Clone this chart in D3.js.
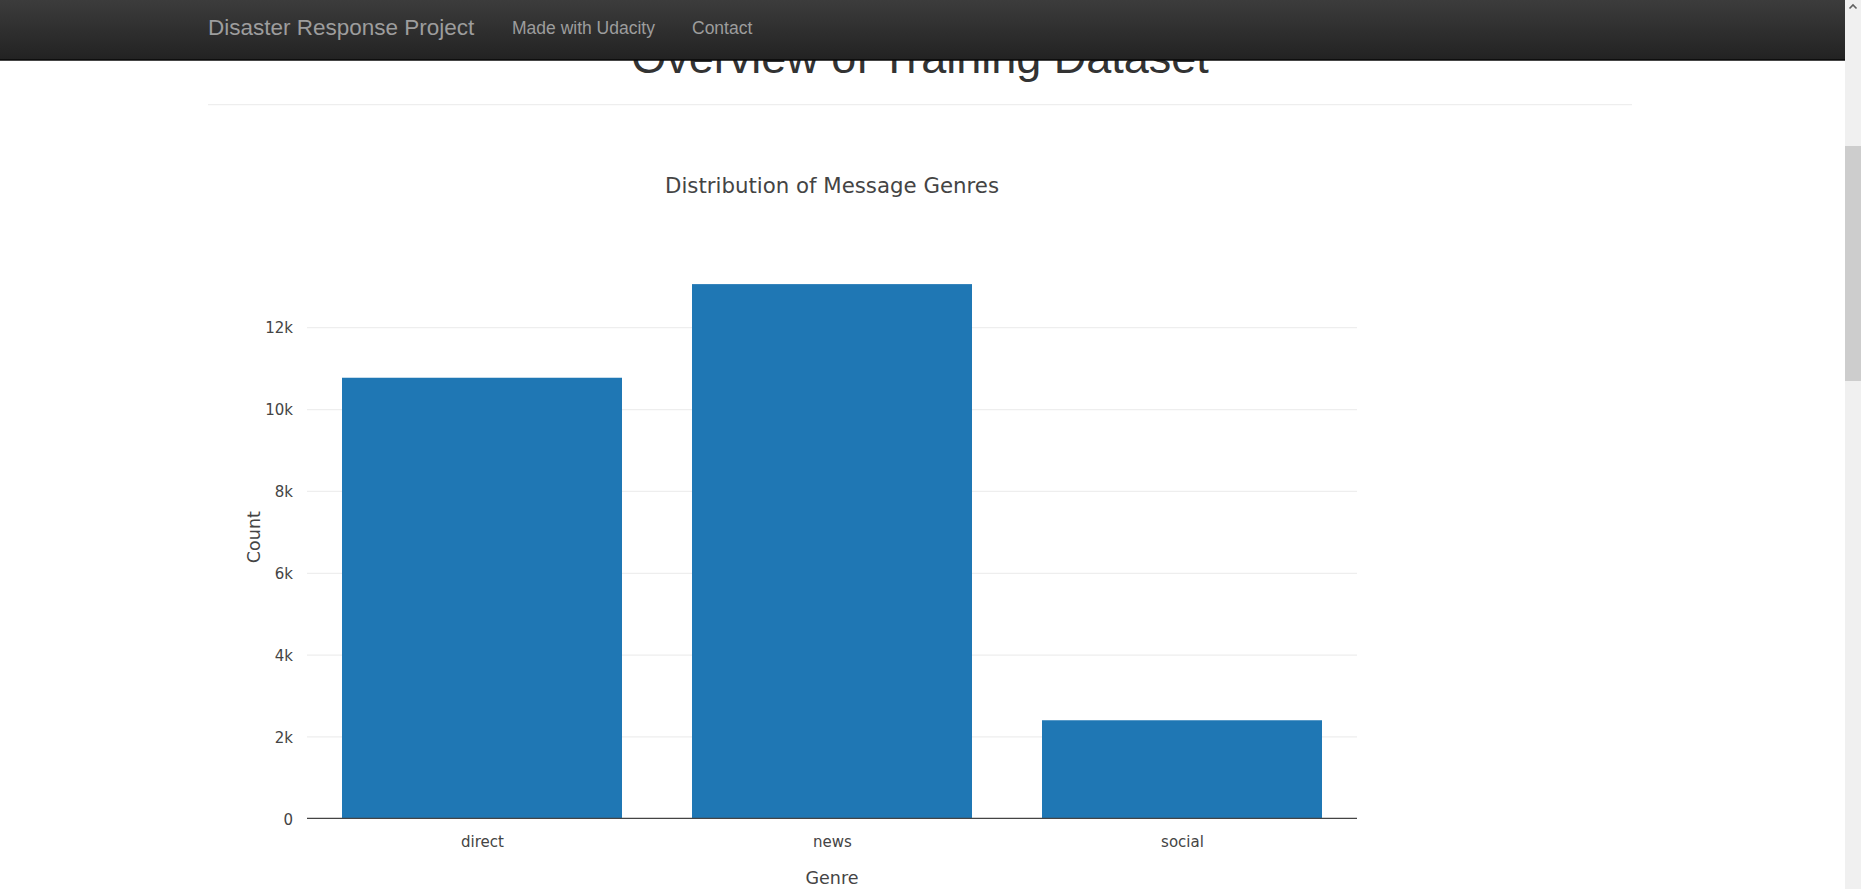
<!DOCTYPE html>
<html>
<head>
<meta charset="utf-8">
<script src="https://cdn.jsdelivr.net/npm/d3@7"></script>
<style>
  html, body { margin: 0; padding: 0; background: #fff; overflow: hidden; }
  svg { display: block; }
</style>
</head>
<body>
<svg id="page" width="1861" height="889"></svg>
<script>
// ---- data ----
const categories = ["direct", "news", "social"];
const counts = [10766, 13054, 2396];
const yTicks = [0, 2000, 4000, 6000, 8000, 10000, 12000];
const yTickLabels = ["0", "2k", "4k", "6k", "8k", "10k", "12k"];
const navBrand = "Disaster Response Project";
const navLinks = ["Made with Udacity", "Contact"];
const pageHeading = "Overview of Training Dataset";
const chartTitle = "Distribution of Message Genres";
const xTitle = "Genre";
const yTitle = "Count";

// ---- layout ----
const W = 1861, H = 889;
const plot = { left: 307, right: 1357, top: 256, bottom: 818.3 };
const svg = d3.select("#page");
const chartFont = "'DejaVu Sans', Verdana, sans-serif";
const pageFont = "'Liberation Sans', Arial, Helvetica, sans-serif";
const defs = svg.append("defs");

// page heading (partly hidden behind fixed navbar)
defs.append("clipPath").attr("id", "belowNav")
  .append("rect").attr("x", 0).attr("y", 60).attr("width", W).attr("height", H - 60);
svg.append("g").attr("clip-path", "url(#belowNav)")
  .append("text")
  .attr("x", 920).attr("y", 73)
  .attr("text-anchor", "middle")
  .attr("font-family", pageFont).attr("font-size", 45)
  .attr("fill", "#333")
  .text(pageHeading);

svg.append("line")
  .attr("x1", 208).attr("x2", 1632).attr("y1", 104.5).attr("y2", 104.5)
  .attr("stroke", "#eee").attr("stroke-width", 1.25);

// ---- chart ----
const yMax = d3.max(counts) / 0.95;
const y = d3.scaleLinear().domain([0, yMax]).range([plot.bottom, plot.top]);
const x = d3.scaleBand().domain(categories).range([plot.left, plot.right])
  .paddingInner(0.2).paddingOuter(0.1);
const xCenters = d3.scalePoint().domain(categories).range([plot.left, plot.right]).padding(0.5);

// grid
const grid = svg.append("g")
  .attr("transform", `translate(${plot.left},0)`)
  .call(d3.axisLeft(y).tickValues(yTicks.filter(v => v > 0))
    .tickSize(-(plot.right - plot.left)).tickFormat(""));
grid.select(".domain").remove();
grid.selectAll(".tick line").attr("stroke", "#eee").attr("stroke-width", 1.25);

// bars
svg.append("g").selectAll("rect")
  .data(categories)
  .join("rect")
  .attr("x", d => x(d))
  .attr("width", x.bandwidth())
  .attr("y", (d, i) => y(counts[i]))
  .attr("height", (d, i) => y(0) - y(counts[i]))
  .attr("fill", "#1f77b4");

// zero line
svg.append("line")
  .attr("x1", plot.left).attr("x2", plot.right)
  .attr("y1", y(0)).attr("y2", y(0))
  .attr("stroke", "#444").attr("stroke-width", 1.25);

// y axis labels
const yAxis = svg.append("g")
  .attr("transform", `translate(${plot.left - 14},0)`)
  .call(d3.axisLeft(y).tickValues(yTicks).tickSize(0).tickPadding(0)
    .tickFormat((d, i) => yTickLabels[i]));
yAxis.select(".domain").remove();
yAxis.selectAll("text")
  .attr("font-family", chartFont).attr("font-size", 15).attr("fill", "#444")
  .attr("dy", "0.38em");

// x axis labels
const xAxis = svg.append("g")
  .attr("transform", `translate(0,${plot.bottom})`)
  .call(d3.axisBottom(xCenters).tickSize(0).tickPadding(0));
xAxis.select(".domain").remove();
xAxis.selectAll("text")
  .attr("font-family", chartFont).attr("font-size", 15).attr("fill", "#444")
  .attr("dy", null).attr("y", 28.5);

// titles
svg.append("text")
  .attr("x", (plot.left + plot.right) / 2).attr("y", 193)
  .attr("text-anchor", "middle")
  .attr("font-family", chartFont).attr("font-size", 21.3).attr("fill", "#444")
  .text(chartTitle);

svg.append("text")
  .attr("x", (plot.left + plot.right) / 2).attr("y", 884)
  .attr("text-anchor", "middle")
  .attr("font-family", chartFont).attr("font-size", 17.5).attr("fill", "#444")
  .text(xTitle);

svg.append("text")
  .attr("transform", `translate(260,${(plot.top + plot.bottom) / 2}) rotate(-90)`)
  .attr("text-anchor", "middle")
  .attr("font-family", chartFont).attr("font-size", 17.5).attr("fill", "#444")
  .text(yTitle);

// ---- navbar (fixed, on top) ----
const grad = defs.append("linearGradient").attr("id", "navgrad")
  .attr("x1", 0).attr("x2", 0).attr("y1", 0).attr("y2", 1);
grad.append("stop").attr("offset", "0%").attr("stop-color", "#3c3c3c");
grad.append("stop").attr("offset", "100%").attr("stop-color", "#222");

svg.append("rect").attr("x", 0).attr("y", 0).attr("width", 1845).attr("height", 60)
  .attr("fill", "url(#navgrad)");
svg.append("line").attr("x1", 0).attr("x2", 1845).attr("y1", 60).attr("y2", 60)
  .attr("stroke", "#080808").attr("stroke-width", 1.5);

svg.append("text")
  .attr("x", 208).attr("y", 35)
  .attr("font-family", pageFont).attr("font-size", 22.5).attr("fill", "#9d9d9d")
  .text(navBrand);
const linkX = [512, 692];
svg.append("g").selectAll("text").data(navLinks).join("text")
  .attr("x", (d, i) => linkX[i]).attr("y", 34)
  .attr("font-family", pageFont).attr("font-size", 17.5).attr("fill", "#9d9d9d")
  .text(d => d);

// ---- scrollbar ----
svg.append("rect").attr("x", 1845).attr("y", 0).attr("width", 16).attr("height", H)
  .attr("fill", "#f0f0f0");
svg.append("rect").attr("x", 1845).attr("y", 146).attr("width", 16).attr("height", 235)
  .attr("fill", "#cdcdcd");
svg.append("path")
  .attr("d", "M1849.5,8.5 L1853,5 L1856.5,8.5")
  .attr("fill", "none").attr("stroke", "#606060").attr("stroke-width", 1.6);
</script>
</body>
</html>
